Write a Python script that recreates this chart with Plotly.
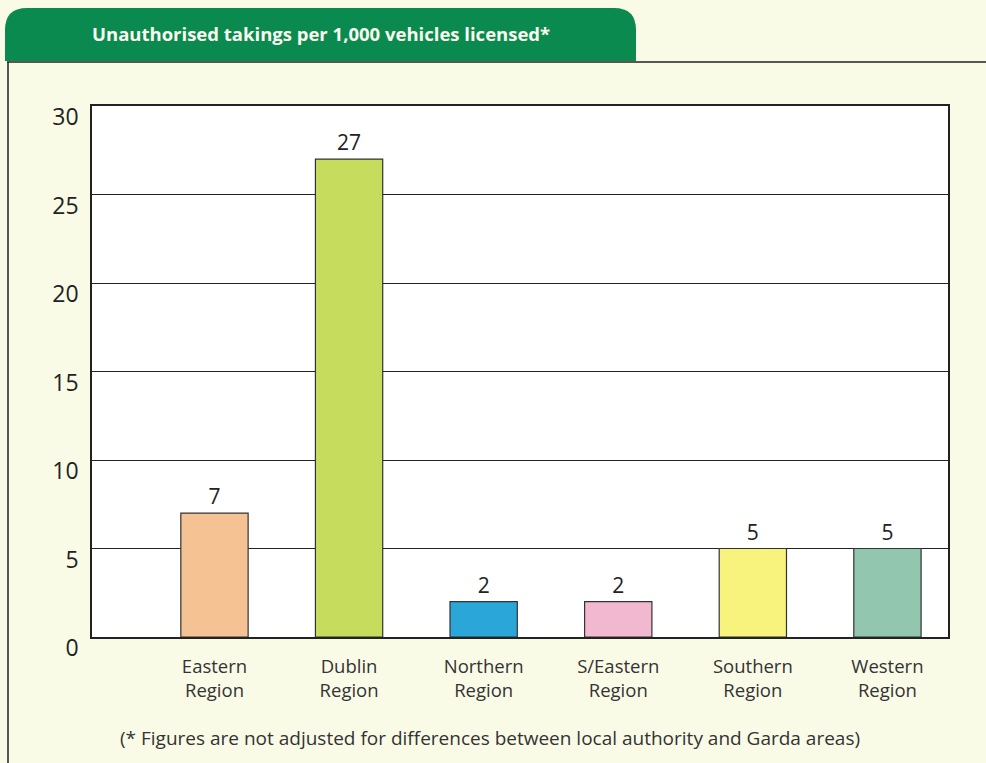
import plotly.graph_objects as go

categories = ["Eastern<br>Region", "Dublin<br>Region", "Northern<br>Region",
              "S/Eastern<br>Region", "Southern<br>Region", "Western<br>Region"]
values = [7, 27, 2, 2, 5, 5]
bar_colors = ["#f5c293", "#c5dc5c", "#2ba6d9", "#f2b8cf", "#f8f37c", "#92c6ae"]
y_ticks = [0, 5, 10, 15, 20, 25, 30]
title_text = "Unauthorised takings per 1,000 vehicles licensed*"
footnote = "(* Figures are not adjusted for differences between local authority and Garda areas)"

W, H = 986, 763
L, R, T, B = 92, 948, 106, 637  # plot area in px


def px(x):
    return (x - L) / (R - L)


def py(y):
    return (B - y) / (B - T)


fig = go.Figure()
fig.add_trace(go.Bar(
    x=list(range(len(categories))), y=values,
    marker=dict(color=bar_colors, line=dict(color="#333333", width=1.2)),
    width=0.5,
    text=[str(v) for v in values], textposition="outside",
    textfont=dict(size=21, color="#222222", family="Open Sans"),
    cliponaxis=False,
    showlegend=False,
))

# green title tab with rounded top corners
x0, x1, y0, y1, r = 5, 636, 8, 61, 22
path = (f"M {px(x0)} {py(y1)} L {px(x0)} {py(y0 + r)} "
        f"Q {px(x0)} {py(y0)} {px(x0 + r)} {py(y0)} "
        f"L {px(x1 - r)} {py(y0)} Q {px(x1)} {py(y0)} {px(x1)} {py(y0 + r)} "
        f"L {px(x1)} {py(y1)} Z")
shapes = [
    dict(type="path", path=path, xref="paper", yref="paper",
         fillcolor="#0a8a4e", line=dict(width=0), layer="below"),
    dict(type="line", xref="paper", yref="paper", x0=px(7), x1=px(986),
         y0=py(62), y1=py(62), line=dict(color="#222222", width=1.5)),
    dict(type="line", xref="paper", yref="paper", x0=px(8), x1=px(8),
         y0=py(62), y1=py(763), line=dict(color="#222222", width=1.5)),
]

annotations = [
    dict(text="<b>" + title_text + "</b>", xref="paper", yref="paper", x=px(321), y=py(34),
         showarrow=False, font=dict(size=18.5, color="#fbfbf0", family="Open Sans"),
         xanchor="center", yanchor="middle"),
    dict(text=footnote, xref="paper", yref="paper", x=px(490), y=py(738),
         showarrow=False, font=dict(size=19, color="#333333", family="Open Sans"),
         xanchor="center", yanchor="middle"),
]

fig.update_layout(
    width=W, height=H, autosize=False,
    margin=dict(l=L, r=W - R, t=T, b=H - B),
    paper_bgcolor="#fafbe7", plot_bgcolor="white",
    shapes=shapes, annotations=annotations,
    font=dict(family="Open Sans", color="#222222"),
    bargap=0.5,
)
fig.update_xaxes(
    range=[-0.91, 5.45], tickmode="array",
    tickvals=list(range(len(categories))), ticktext=categories,
    tickfont=dict(size=18.5, color="#333333"),
    showline=True, mirror=True, linecolor="#222222", linewidth=1.5,
    showgrid=False, ticks="", ticklabelstandoff=12,
)
fig.update_yaxes(
    range=[0, 30], tickvals=y_ticks, ticktext=[str(t) for t in y_ticks],
    tickfont=dict(size=23, color="#222222"),
    showline=True, mirror=True, linecolor="#222222", linewidth=1.5,
    showgrid=True, gridcolor="#222222", gridwidth=1.3,
    ticks="", zeroline=False, ticklabelstandoff=7, ticklabelshift=11,
)

fig.write_html("out.html", config={"displayModeBar": False},
               post_script="document.body.style.margin='0';")
